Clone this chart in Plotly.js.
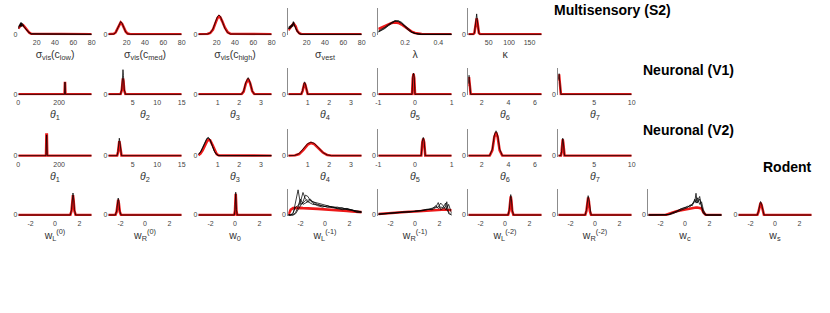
<!DOCTYPE html>
<html><head><meta charset="utf-8">
<script src="https://cdn.plot.ly/plotly-3.0.1.min.js"></script>
<style>html,body{margin:0;padding:0;background:#fff;}#chart{width:830px;height:313px;}</style>
</head><body><div id="chart"></div>
<script>
// ---------- group labels ----------
const groupNames = ["Multisensory (S2)", "Neuronal (V1)", "Neuronal (V2)", "Rodent"];

// ---------- tick labels ----------
const sigmaTicks = [20, 40, 60, 80];
const lambdaTicks = [0.2, 0.4];
const kappaTicks = [50, 100, 150];
const theta1Ticks = [0, 200];
const theta2Ticks = [5, 10, 15];
const theta34Ticks = [1, 2, 3];
const theta5Ticks = [-1, 0, 1];
const theta6Ticks = [2, 4, 6];
const theta7Ticks = [5, 10];
const wTicks = [-2, 0, 2];

// ---------- Multisensory (S2) ----------
const sLowX   = [0, 1, 2, 2.5, 3, 3.5, 4, 5, 6, 7, 8, 10, 12, 14, 80];
const sLowRed = [0.22, 0.28, 0.32, 0.34, 0.35, 0.36, 0.36, 0.35, 0.32, 0.27, 0.22, 0.13, 0.06, 0.02, 0];
const sLowBlk1 = [0.25, 0.35, 0.3, 0.44, 0.32, 0.3, 0.42, 0.33, 0.3, 0.26, 0.2, 0.12, 0.05, 0.01, 0];
const sLowBlk2 = [0.2, 0.3, 0.4, 0.3, 0.38, 0.44, 0.3, 0.36, 0.28, 0.24, 0.22, 0.11, 0.06, 0.02, 0];

const sMedX   = [0, 6, 8, 10, 12, 13.5, 15, 17, 19, 21, 24, 80];
const sMedRed = [0, 0.02, 0.07, 0.2, 0.38, 0.45, 0.4, 0.25, 0.1, 0.03, 0, 0];
const sMedBlk = [0, 0.01, 0.06, 0.22, 0.42, 0.48, 0.42, 0.24, 0.08, 0.02, 0, 0];

const sHighX   = [0, 10, 13, 16, 19, 21, 22.6, 24, 26, 29, 32, 35, 80];
const sHighRed = [0, 0.01, 0.05, 0.18, 0.45, 0.62, 0.68, 0.64, 0.5, 0.25, 0.08, 0.02, 0];
const sHighBlk = [0, 0.01, 0.05, 0.2, 0.5, 0.68, 0.73, 0.68, 0.5, 0.22, 0.06, 0.01, 0];

const sVestX   = [0, 1, 2, 3, 4, 5, 5.5, 6, 7, 8, 9, 10, 12, 14, 80];
const sVestRed = [0.15, 0.2, 0.24, 0.28, 0.33, 0.38, 0.4, 0.4, 0.36, 0.3, 0.2, 0.12, 0.04, 0.01, 0];
const sVestBlk1 = [0.2, 0.3, 0.22, 0.35, 0.28, 0.4, 0.48, 0.35, 0.33, 0.22, 0.16, 0.1, 0.03, 0, 0];
const sVestBlk2 = [0.25, 0.2, 0.32, 0.25, 0.38, 0.3, 0.42, 0.46, 0.3, 0.26, 0.15, 0.08, 0.02, 0, 0];

const lamX   = [0.04, 0.06, 0.08, 0.1, 0.12, 0.14, 0.16, 0.18, 0.2, 0.22, 0.24, 0.26, 0.28, 0.3, 0.48];
const lamRed = [0.2, 0.26, 0.32, 0.38, 0.43, 0.45, 0.43, 0.37, 0.28, 0.18, 0.1, 0.05, 0.02, 0.01, 0];
const lamBlk1 = [0.1, 0.16, 0.24, 0.34, 0.44, 0.5, 0.5, 0.43, 0.3, 0.18, 0.08, 0.03, 0.01, 0, 0];
const lamBlk2 = [0.12, 0.18, 0.27, 0.37, 0.46, 0.52, 0.48, 0.4, 0.27, 0.15, 0.07, 0.02, 0, 0, 0];
const lamBlk3 = [0.08, 0.14, 0.22, 0.32, 0.42, 0.49, 0.51, 0.45, 0.33, 0.2, 0.1, 0.04, 0.01, 0, 0];

const kapX   = [0, 12, 15, 17, 19, 20.5, 22, 24, 26, 29, 180];
const kapRed = [0, 0, 0.05, 0.25, 0.55, 0.6, 0.5, 0.2, 0.05, 0, 0];
const kapBlk = [0, 0, 0.04, 0.3, 0.7, 0.77, 0.55, 0.18, 0.03, 0, 0];

// ---------- Neuronal (V1) ----------
const v1t1X   = [0, 227, 229, 231, 360];
const v1t1Red = [0, 0, 0.47, 0, 0];
const v1t1Blk = [0, 0, 0.46, 0, 0];

const v1t2X   = [0, 2.5, 2.75, 2.9, 3.0, 3.1, 3.25, 3.5, 15];
const v1t2Red = [0, 0, 0.15, 0.5, 0.6, 0.5, 0.15, 0, 0];
const v1t2Blk = [0, 0, 0.2, 0.75, 0.93, 0.7, 0.2, 0, 0];

const v1t3X   = [0.1, 2.1, 2.2, 2.3, 2.41, 2.5, 2.6, 2.7, 3.5];
const v1t3Red = [0, 0, 0.1, 0.4, 0.58, 0.42, 0.12, 0, 0];
const v1t3Blk = [0, 0, 0.12, 0.45, 0.63, 0.45, 0.12, 0, 0];

const v1t4X   = [0.1, 0.7, 0.76, 0.81, 0.85, 0.89, 0.94, 1.0, 3.5];
const v1t4Red = [0, 0, 0.12, 0.35, 0.42, 0.35, 0.12, 0, 0];
const v1t4Blk = [0, 0, 0.15, 0.4, 0.47, 0.4, 0.15, 0, 0];

const v1t5X   = [-1, -0.08, -0.06, -0.04, -0.02, 0.0, 1];
const v1t5Red = [0, 0, 0.6, 0.78, 0.6, 0, 0];
const v1t5Blk = [0, 0, 0.65, 0.8, 0.65, 0, 0];

const v1t6X   = [1, 1.02, 1.05, 1.08, 1.12, 1.18, 6.5];
const v1t6Red = [0.3, 0.6, 0.65, 0.5, 0.15, 0, 0];
const v1t6Blk = [0.4, 0.68, 0.72, 0.55, 0.15, 0, 0];

const v1t7X   = [0.2, 0.25, 0.3, 0.38, 0.45, 0.55, 10];
const v1t7Red = [0.5, 0.7, 0.75, 0.5, 0.1, 0, 0];
const v1t7Blk = [0.55, 0.76, 0.78, 0.5, 0.1, 0, 0];

// ---------- Neuronal (V2) ----------
const v2t1X   = [0, 136, 138, 140, 142, 360];
const v2t1Red = [0, 0, 0.8, 0.8, 0, 0];
const v2t1Blk = [0, 0, 0.78, 0.78, 0, 0];

const v2t2X   = [0, 1.8, 2.0, 2.15, 2.25, 2.35, 2.5, 2.7, 15];
const v2t2Red = [0, 0, 0.15, 0.45, 0.55, 0.45, 0.15, 0, 0];
const v2t2Blk = [0, 0, 0.2, 0.55, 0.66, 0.55, 0.2, 0, 0];

const v2t3X   = [0.1, 0.2, 0.3, 0.4, 0.5, 0.57, 0.65, 0.75, 0.85, 0.95, 1.05, 3.5];
const v2t3Red = [0.02, 0.08, 0.2, 0.38, 0.54, 0.6, 0.58, 0.42, 0.2, 0.06, 0.01, 0];
const v2t3Blk1 = [0.05, 0.15, 0.32, 0.52, 0.66, 0.69, 0.6, 0.38, 0.15, 0.04, 0, 0];
const v2t3Blk2 = [0.04, 0.12, 0.28, 0.5, 0.64, 0.67, 0.58, 0.36, 0.16, 0.05, 0, 0];

const v2t4X   = [0.1, 0.4, 0.6, 0.8, 1.0, 1.15, 1.3, 1.5, 1.7, 1.9, 2.1, 3.5];
const v2t4Red = [0, 0.01, 0.06, 0.22, 0.42, 0.48, 0.44, 0.28, 0.12, 0.03, 0, 0];
const v2t4Blk = [0, 0.01, 0.08, 0.26, 0.46, 0.51, 0.47, 0.3, 0.12, 0.03, 0, 0];

const v2t5X   = [-1, 0.17, 0.2, 0.226, 0.25, 0.28, 1];
const v2t5Red = [0, 0, 0.5, 0.65, 0.5, 0, 0];
const v2t5Blk = [0, 0, 0.55, 0.69, 0.55, 0, 0];

const v2t6X   = [1, 2.6, 2.8, 2.95, 3.08, 3.2, 3.35, 3.55, 6.5];
const v2t6Red = [0, 0, 0.2, 0.7, 0.88, 0.7, 0.2, 0, 0];
const v2t6Blk = [0, 0, 0.25, 0.78, 0.94, 0.78, 0.25, 0, 0];

const v2t7X   = [0.2, 0.55, 0.65, 0.72, 0.79, 0.86, 0.93, 1.03, 10];
const v2t7Red = [0, 0, 0.15, 0.5, 0.62, 0.5, 0.15, 0, 0];
const v2t7Blk = [0, 0, 0.2, 0.55, 0.66, 0.55, 0.2, 0, 0];

// ---------- Rodent ----------
const wL0X   = [-3, 1.25, 1.35, 1.42, 1.47, 1.52, 1.59, 1.69, 3];
const wL0Red = [0, 0, 0.15, 0.55, 0.75, 0.55, 0.15, 0, 0];
const wL0Blk = [0, 0, 0.2, 0.65, 0.83, 0.65, 0.2, 0, 0];

const wR0X   = [-3, -2.42, -2.32, -2.24, -2.19, -2.14, -2.06, -1.96, 3];
const wR0Red = [0, 0, 0.12, 0.45, 0.58, 0.45, 0.12, 0, 0];
const wR0Blk = [0, 0, 0.15, 0.52, 0.64, 0.52, 0.15, 0, 0];

const w0X   = [-3, -0.06, 0.0, 0.04, 0.06, 0.08, 0.12, 0.18, 3];
const w0Red = [0, 0, 0.15, 0.6, 0.8, 0.6, 0.15, 0, 0];
const w0Blk = [0, 0, 0.2, 0.7, 0.86, 0.7, 0.2, 0, 0];

const wL1X   = [-3, -2.8, -2.6, -2.4, -2.2, -2.0, -1.8, -1.6, -1.4, -1.2, -1.0, -0.6, -0.2, 0.2, 0.6, 1.0, 1.4, 1.8, 2.2, 2.6, 3.0];
const wL1Red = [0, 0.2, 0.26, 0.27, 0.27, 0.27, 0.26, 0.26, 0.25, 0.25, 0.24, 0.23, 0.22, 0.2, 0.19, 0.18, 0.16, 0.15, 0.13, 0.12, 0.11];
const wL1Blk1 = [0, 0, 0.05, 0.5, 0.95, 0.4, 0.45, 0.55, 0.5, 0.45, 0.4, 0.38, 0.35, 0.3, 0.32, 0.28, 0.22, 0.25, 0.18, 0.15, 0.12];
const wL1Blk2 = [0, 0, 0, 0.1, 0.3, 0.5, 0.85, 0.6, 0.55, 0.6, 0.5, 0.45, 0.38, 0.35, 0.3, 0.25, 0.28, 0.2, 0.17, 0.1, 0.1];
const wL1Blk3 = [0, 0, 0, 0.05, 0.2, 0.35, 0.5, 0.75, 0.7, 0.55, 0.5, 0.4, 0.35, 0.3, 0.28, 0.3, 0.25, 0.22, 0.2, 0.12, 0.1];
const wL1Blk4 = [0, 0, 0.1, 0.3, 0.35, 0.6, 0.4, 0.45, 0.5, 0.55, 0.45, 0.35, 0.3, 0.35, 0.28, 0.25, 0.2, 0.22, 0.18, 0.15, 0.12];

const wR1X   = [-3, -2.5, -2, -1.5, -1, -0.5, 0, 0.5, 1, 1.4, 1.7, 1.9, 2.1, 2.3, 2.5, 2.6, 2.75, 3];
const wR1Red = [0.04, 0.06, 0.07, 0.09, 0.1, 0.12, 0.13, 0.15, 0.17, 0.18, 0.19, 0.2, 0.2, 0.21, 0.21, 0.2, 0.19, 0.18];
const wR1Blk1 = [0.03, 0.05, 0.07, 0.08, 0.1, 0.12, 0.14, 0.15, 0.2, 0.25, 0.3, 0.47, 0.2, 0.25, 0.3, 0.5, 0.05, 0];
const wR1Blk2 = [0.02, 0.04, 0.06, 0.09, 0.1, 0.13, 0.15, 0.17, 0.22, 0.2, 0.28, 0.3, 0.45, 0.35, 0.2, 0.25, 0.4, 0.05];
const wR1Blk3 = [0.04, 0.06, 0.08, 0.1, 0.12, 0.11, 0.14, 0.18, 0.2, 0.23, 0.35, 0.25, 0.3, 0.28, 0.45, 0.2, 0.1, 0];

const wL2X   = [-3, 0.25, 0.35, 0.42, 0.47, 0.52, 0.59, 0.69, 3];
const wL2Red = [0, 0, 0.15, 0.55, 0.7, 0.55, 0.15, 0, 0];
const wL2Blk = [0, 0, 0.2, 0.62, 0.77, 0.62, 0.2, 0, 0];

const wR2X   = [-3, -0.8, -0.7, -0.62, -0.56, -0.5, -0.42, -0.32, 3];
const wR2Red = [0, 0, 0.15, 0.52, 0.66, 0.52, 0.15, 0, 0];
const wR2Blk = [0, 0, 0.2, 0.58, 0.73, 0.58, 0.2, 0, 0];

const wcX   = [-3, -1.6, -1.3, -1.0, -0.7, -0.4, -0.1, 0.2, 0.4, 0.6, 0.8, 0.9, 1.0, 1.2, 1.35, 1.5, 1.7, 3];
const wcRed = [0, 0, 0.05, 0.1, 0.14, 0.17, 0.2, 0.23, 0.25, 0.26, 0.27, 0.28, 0.28, 0.27, 0.25, 0.1, 0, 0];
const wcBlk1 = [0, 0, 0.02, 0.08, 0.15, 0.2, 0.28, 0.3, 0.35, 0.4, 0.5, 0.82, 0.45, 0.6, 0.35, 0.1, 0, 0];
const wcBlk2 = [0, 0, 0.03, 0.1, 0.12, 0.22, 0.25, 0.33, 0.3, 0.45, 0.55, 0.5, 0.65, 0.4, 0.5, 0.2, 0, 0];
const wcBlk3 = [0, 0, 0.01, 0.05, 0.1, 0.18, 0.22, 0.28, 0.38, 0.35, 0.6, 0.45, 0.5, 0.7, 0.3, 0.05, 0, 0];

const wsX   = [-3, -1.45, -1.35, -1.25, -1.18, -1.1, -1.0, -0.9, 3];
const wsRed = [0, 0, 0.12, 0.38, 0.46, 0.38, 0.12, 0, 0];
const wsBlk = [0, 0, 0.14, 0.42, 0.51, 0.42, 0.14, 0, 0];

// ---------- panel table (built from the arrays above) ----------
const panels = [
  {row:0,col:0,x:sLowX,red:sLowRed,blk:[sLowBlk1,sLowBlk2],title:"σ<sub>vis</sub>(c<sub>low</sub>)",range:[0,80],ticks:sigmaTicks,line:false},
  {row:0,col:1,x:sMedX,red:sMedRed,blk:[sMedBlk],title:"σ<sub>vis</sub>(c<sub>med</sub>)",range:[0,80],ticks:sigmaTicks,line:false},
  {row:0,col:2,x:sHighX,red:sHighRed,blk:[sHighBlk],title:"σ<sub>vis</sub>(c<sub>high</sub>)",range:[0,80],ticks:sigmaTicks,line:false},
  {row:0,col:3,x:sVestX,red:sVestRed,blk:[sVestBlk1,sVestBlk2],title:"σ<sub>vest</sub>",range:[0,80],ticks:sigmaTicks,line:true},
  {row:0,col:4,x:lamX,red:lamRed,blk:[lamBlk1,lamBlk2,lamBlk3],title:"λ",range:[0.04,0.48],ticks:lambdaTicks,line:true},
  {row:0,col:5,x:kapX,red:kapRed,blk:[kapBlk],title:"κ",range:[0,180],ticks:kappaTicks,line:true},

  {row:1,col:0,x:v1t1X,red:v1t1Red,blk:[v1t1Blk],title:"<i>θ</i><sub>1</sub>",range:[0,360],ticks:theta1Ticks,line:false},
  {row:1,col:1,x:v1t2X,red:v1t2Red,blk:[v1t2Blk],title:"<i>θ</i><sub>2</sub>",range:[0,15],ticks:theta2Ticks,line:false},
  {row:1,col:2,x:v1t3X,red:v1t3Red,blk:[v1t3Blk],title:"<i>θ</i><sub>3</sub>",range:[0.1,3.5],ticks:theta34Ticks,line:false},
  {row:1,col:3,x:v1t4X,red:v1t4Red,blk:[v1t4Blk],title:"<i>θ</i><sub>4</sub>",range:[0.1,3.5],ticks:theta34Ticks,line:true},
  {row:1,col:4,x:v1t5X,red:v1t5Red,blk:[v1t5Blk],title:"<i>θ</i><sub>5</sub>",range:[-1,1],ticks:theta5Ticks,line:true},
  {row:1,col:5,x:v1t6X,red:v1t6Red,blk:[v1t6Blk],title:"<i>θ</i><sub>6</sub>",range:[1,6.5],ticks:theta6Ticks,line:true},
  {row:1,col:6,x:v1t7X,red:v1t7Red,blk:[v1t7Blk],title:"<i>θ</i><sub>7</sub>",range:[0.2,10],ticks:theta7Ticks,line:true},

  {row:2,col:0,x:v2t1X,red:v2t1Red,blk:[v2t1Blk],title:"<i>θ</i><sub>1</sub>",range:[0,360],ticks:theta1Ticks,line:false},
  {row:2,col:1,x:v2t2X,red:v2t2Red,blk:[v2t2Blk],title:"<i>θ</i><sub>2</sub>",range:[0,15],ticks:theta2Ticks,line:false},
  {row:2,col:2,x:v2t3X,red:v2t3Red,blk:[v2t3Blk1,v2t3Blk2],title:"<i>θ</i><sub>3</sub>",range:[0.1,3.5],ticks:theta34Ticks,line:false},
  {row:2,col:3,x:v2t4X,red:v2t4Red,blk:[v2t4Blk],title:"<i>θ</i><sub>4</sub>",range:[0.1,3.5],ticks:theta34Ticks,line:true},
  {row:2,col:4,x:v2t5X,red:v2t5Red,blk:[v2t5Blk],title:"<i>θ</i><sub>5</sub>",range:[-1,1],ticks:theta5Ticks,line:true},
  {row:2,col:5,x:v2t6X,red:v2t6Red,blk:[v2t6Blk],title:"<i>θ</i><sub>6</sub>",range:[1,6.5],ticks:theta6Ticks,line:true},
  {row:2,col:6,x:v2t7X,red:v2t7Red,blk:[v2t7Blk],title:"<i>θ</i><sub>7</sub>",range:[0.2,10],ticks:theta7Ticks,line:true},

  {row:3,col:0,x:wL0X,red:wL0Red,blk:[wL0Blk],title:"w<sub>L</sub><sup>(0)</sup>",range:[-3,3],ticks:wTicks,line:false},
  {row:3,col:1,x:wR0X,red:wR0Red,blk:[wR0Blk],title:"w<sub>R</sub><sup>(0)</sup>",range:[-3,3],ticks:wTicks,line:false},
  {row:3,col:2,x:w0X,red:w0Red,blk:[w0Blk],title:"w<sub>0</sub>",range:[-3,3],ticks:wTicks,line:false},
  {row:3,col:3,x:wL1X,red:wL1Red,blk:[wL1Blk1,wL1Blk2,wL1Blk3,wL1Blk4],title:"w<sub>L</sub><sup>(-1)</sup>",range:[-3,3],ticks:wTicks,line:true},
  {row:3,col:4,x:wR1X,red:wR1Red,blk:[wR1Blk1,wR1Blk2,wR1Blk3],title:"w<sub>R</sub><sup>(-1)</sup>",range:[-3,3],ticks:wTicks,line:true},
  {row:3,col:5,x:wL2X,red:wL2Red,blk:[wL2Blk],title:"w<sub>L</sub><sup>(-2)</sup>",range:[-3,3],ticks:wTicks,line:true},
  {row:3,col:6,x:wR2X,red:wR2Red,blk:[wR2Blk],title:"w<sub>R</sub><sup>(-2)</sup>",range:[-3,3],ticks:wTicks,line:true},
  {row:3,col:7,x:wcX,red:wcRed,blk:[wcBlk1,wcBlk2,wcBlk3],title:"w<sub>c</sub>",range:[-3,3],ticks:wTicks,line:true},
  {row:3,col:8,x:wsX,red:wsRed,blk:[wsBlk],title:"w<sub>s</sub>",range:[-3,3],ticks:wTicks,line:false}
];

// ---------- build figure ----------
const W = 830, H = 313;
const rowBase = [34.3, 94.3, 155.7, 215];
const plotH = 26.5;
const FONT = "Liberation Sans, Arial, sans-serif";
const traces = [];
const layout = {
  width: W, height: H,
  margin: {l:0, r:0, t:0, b:0},
  paper_bgcolor: "#fff", plot_bgcolor: "rgba(0,0,0,0)",
  showlegend: false,
  font: {family: FONT, color: "#333"},
  annotations: []
};

panels.forEach((p, k) => {
  const n = k + 1;
  const sfx = n === 1 ? "" : String(n);
  const xr = "x" + sfx, yr = "y" + sfx;
  traces.push({
    x: p.x, y: p.red, xaxis: xr, yaxis: yr, type: "scatter", mode: "lines",
    line: {color: "rgba(235,0,0,0.9)", width: 2.6}, hoverinfo: "skip"
  });
  p.blk.forEach(b => traces.push({
    x: p.x, y: b, xaxis: xr, yaxis: yr, type: "scatter", mode: "lines",
    line: {color: "rgba(0,0,0,0.85)", width: 0.9}, hoverinfo: "skip"
  }));
  const x0 = (18.3 + 90 * p.col) / W, x1 = (91.7 + 90 * p.col) / W;
  const yb = rowBase[p.row];
  const yTopPx = yb - plotH, yBotPx = yb + 0.04 * plotH;
  layout["xaxis" + sfx] = {
    domain: [x0, x1], anchor: yr, range: p.range,
    showgrid: false, zeroline: false, showline: false, ticks: "",
    tickvals: p.ticks, ticktext: p.ticks.map(String),
    tickfont: {size: 7, color: "#444", family: FONT},
    ticklabelstandoff: 2,
    title: {text: p.title, font: {size: 10.5, color: "#333", family: FONT}, standoff: 5}
  };
  layout["yaxis" + sfx] = {
    domain: [1 - yBotPx / H, 1 - yTopPx / H], anchor: xr, range: [-0.04, 1],
    showgrid: false, zeroline: false, showline: p.line, linecolor: "#8c8c8c", linewidth: 1,
    ticks: "", tickvals: [0], ticktext: ["0"],
    tickfont: {size: 7, color: "#444", family: FONT}
  };
});

const groupPos = [[552, 10], [641, 70], [641, 130], [761, 167]];
groupNames.forEach((g, i) => {
  layout.annotations.push({
    text: "<b>" + g + "</b>", xref: "paper", yref: "paper",
    x: groupPos[i][0] / W, y: 1 - groupPos[i][1] / H,
    xanchor: "left", yanchor: "middle", showarrow: false,
    font: {size: 14, color: "#000", family: FONT}
  });
});

Plotly.newPlot("chart", traces, layout, {staticPlot: true, displayModeBar: false});
</script></body></html>
